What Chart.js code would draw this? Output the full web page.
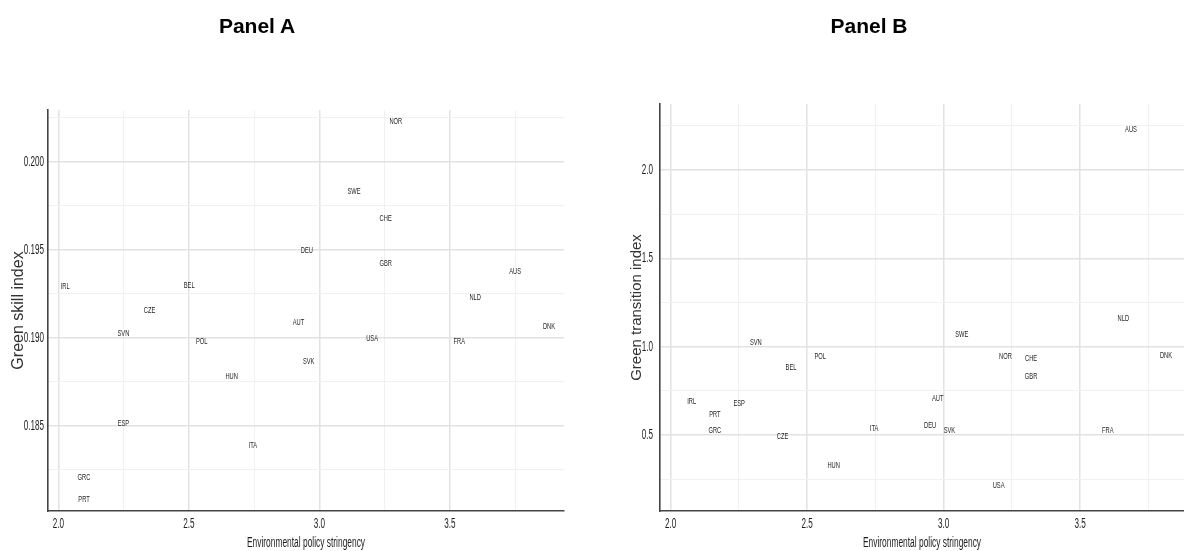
<!DOCTYPE html>
<html><head><meta charset="utf-8">
<script src="https://cdn.jsdelivr.net/npm/chart.js@4.4.1/dist/chart.umd.min.js"></script>
<style>
html,body{margin:0;padding:0;background:#fff;width:1184px;height:551px;overflow:hidden;position:relative;}
.panel{position:absolute;top:0;width:592px;height:551px;}
#wrapA{left:0} #wrapB{left:592px}
.ptitle{position:absolute;top:14px;font:bold 21px 'Liberation Sans',Arial,sans-serif;color:#000;transform:translateX(-50%);white-space:nowrap;line-height:normal;z-index:2}
</style></head><body>
<div class="ptitle" style="left:257px">Panel A</div>
<div class="ptitle" style="left:869px">Panel B</div>
<div class="panel" id="wrapA"><canvas id="cA" width="592" height="551"></canvas></div>
<div class="panel" id="wrapB"><canvas id="cB" width="592" height="551"></canvas></div>
<script>
// ---- Panel A data ----
const countriesA = ['NOR','SWE','CHE','DEU','GBR','AUS','IRL','BEL','CZE','NLD','AUT','DNK','SVN','POL','USA','FRA','SVK','HUN','ESP','ITA','GRC','PRT'];
const epsA   = [3.293,3.133,3.254,2.952,3.254,3.750,2.026,2.501,2.349,3.597,2.920,3.880,2.249,2.549,3.202,3.536,2.959,2.664,2.249,2.745,2.098,2.098];
const skillA = [0.20226,0.19828,0.19678,0.19498,0.19423,0.19375,0.19290,0.19299,0.19157,0.19230,0.19085,0.19066,0.19021,0.18981,0.18993,0.18981,0.18866,0.18777,0.18514,0.18385,0.18207,0.18078];
// ---- Panel B data ----
const countriesB = ['AUS','NLD','SVN','POL','BEL','IRL','ESP','PRT','GRC','CZE','ITA','HUN','SWE','NOR','CHE','GBR','DNK','AUT','DEU','SVK','FRA','USA'];
const epsB   = [3.686,3.658,2.312,2.548,2.441,2.077,2.251,2.162,2.162,2.410,2.745,2.597,3.066,3.226,3.320,3.320,3.814,2.978,2.950,3.021,3.601,3.201];
const transB = [2.230,1.157,1.022,0.945,0.881,0.691,0.676,0.617,0.528,0.490,0.538,0.329,1.070,0.942,0.936,0.830,0.951,0.704,0.553,0.528,0.527,0.213];
// ---- axis labels ----
const xTitle = 'Environmental policy stringency';
const yTitleA = 'Green skill index';
const yTitleB = 'Green transition index';

const SANS = "'Liberation Sans',Arial,sans-serif";
// "CondNN" is a marker (not an installed font): text drawn in such a font is condensed to NN% width
const COND_TICK = "Cond58," + SANS;
const COND_TITLE = "Cond60," + SANS;
const COND_LABEL = "Cond64," + SANS;

(function(){
  const P = CanvasRenderingContext2D.prototype;
  const orig = P.fillText;
  P.fillText = function(t, x, y, mw){
    const m = /Cond(\d+)/.exec(this.font);
    if (!m) return mw === undefined ? orig.call(this, t, x, y) : orig.call(this, t, x, y, mw);
    const k = parseInt(m[1],10)/100;
    this.save();
    this.translate(x, y);
    this.scale(k, 1);
    if (mw === undefined) orig.call(this, t, 0, 0); else orig.call(this, t, 0, 0, mw/k);
    this.restore();
  };
})();

function isMajor(v, step){ const r = v/step; return Math.abs(r-Math.round(r)) < 1e-6; }

const labelPlugin = {
  id:'ctryLabels',
  afterDatasetsDraw(chart){
    const ctx = chart.ctx;
    const meta = chart.getDatasetMeta(0);
    const names = chart.data.datasets[0].names;
    ctx.save();
    ctx.font = "9px " + COND_LABEL;
    ctx.fillStyle = '#262626';
    ctx.textAlign = 'center';
    ctx.textBaseline = 'middle';
    meta.data.forEach((pt,i)=>{ ctx.fillText(names[i], pt.x, pt.y); });
    ctx.restore();
  }
};

function makeChart(id, xs, ys, names, o){
  const data = xs.map((x,i)=>({x:x, y:ys[i]}));
  return new Chart(document.getElementById(id), {
    type:'scatter',
    data:{datasets:[{data:data, names:names, pointRadius:0, pointHoverRadius:0, showLine:false}]},
    options:{
      responsive:false, animation:false, devicePixelRatio:1,
      layout:{padding:{top:o.top, right:o.right, left:0, bottom:0}},
      plugins:{legend:{display:false}, tooltip:{enabled:false}},
      scales:{
        x:{type:'linear', min:o.xmin, max:o.xmax,
           afterFit(s){ s.height = 40; },
           border:{display:true, color:'#444', width:1.6},
           grid:{drawTicks:false,
                 color:c=>isMajor(c.tick.value,0.5)?'#e2e2e2':'#f1f1f1',
                 lineWidth:c=>isMajor(c.tick.value,0.5)?1.5:1},
           ticks:{stepSize:0.25, includeBounds:false, autoSkip:false, maxRotation:0, padding:5,
                  color:'#1e1e1e', font:{family:COND_TICK, size:14},
                  callback:v=>isMajor(v,0.5)?v.toFixed(1):''},
           title:{display:true, text:xTitle, color:'#1e1e1e', font:{family:COND_TITLE, size:14}, padding:{top:0,bottom:-1}}
        },
        y:{type:'linear', min:o.ymin, max:o.ymax,
           afterFit(s){ s.width = o.yw; },
           border:{display:true, color:'#444', width:1.6},
           grid:{drawTicks:false,
                 color:c=>isMajor(c.tick.value,o.ymaj)?'#e2e2e2':'#f1f1f1',
                 lineWidth:c=>isMajor(c.tick.value,o.ymaj)?1.5:1},
           ticks:{stepSize:o.ystep, includeBounds:false, autoSkip:false, padding:o.ypad,
                  color:'#1e1e1e', font:{family:COND_TICK, size:14},
                  callback:v=>isMajor(v,o.ymaj)?v.toFixed(o.ydec):''},
           title:{display:true, text:o.ytitle, color:'#333', font:{family:SANS, size:o.ytsize}, padding:{top:o.ytpad,bottom:0}}
        }
      }
    },
    plugins:[labelPlugin]
  });
}

makeChart('cA', epsA, skillA, countriesA, {
  top:110, right:28, xmin:1.96, xmax:3.9375, ymin:0.18015, ymax:0.20294,
  ystep:0.0025, ymaj:0.005, ydec:3, yw:48, ypad:4, ytitle:yTitleA, ytsize:16, ytpad:8.5
});
makeChart('cB', epsB, transB, countriesB, {
  top:104, right:0, xmin:1.961, xmax:3.88, ymin:0.07, ymax:2.374,
  ystep:0.25, ymaj:0.5, ydec:1, yw:68, ypad:7, ytitle:yTitleB, ytsize:15, ytpad:36
});
</script>
</body></html>
